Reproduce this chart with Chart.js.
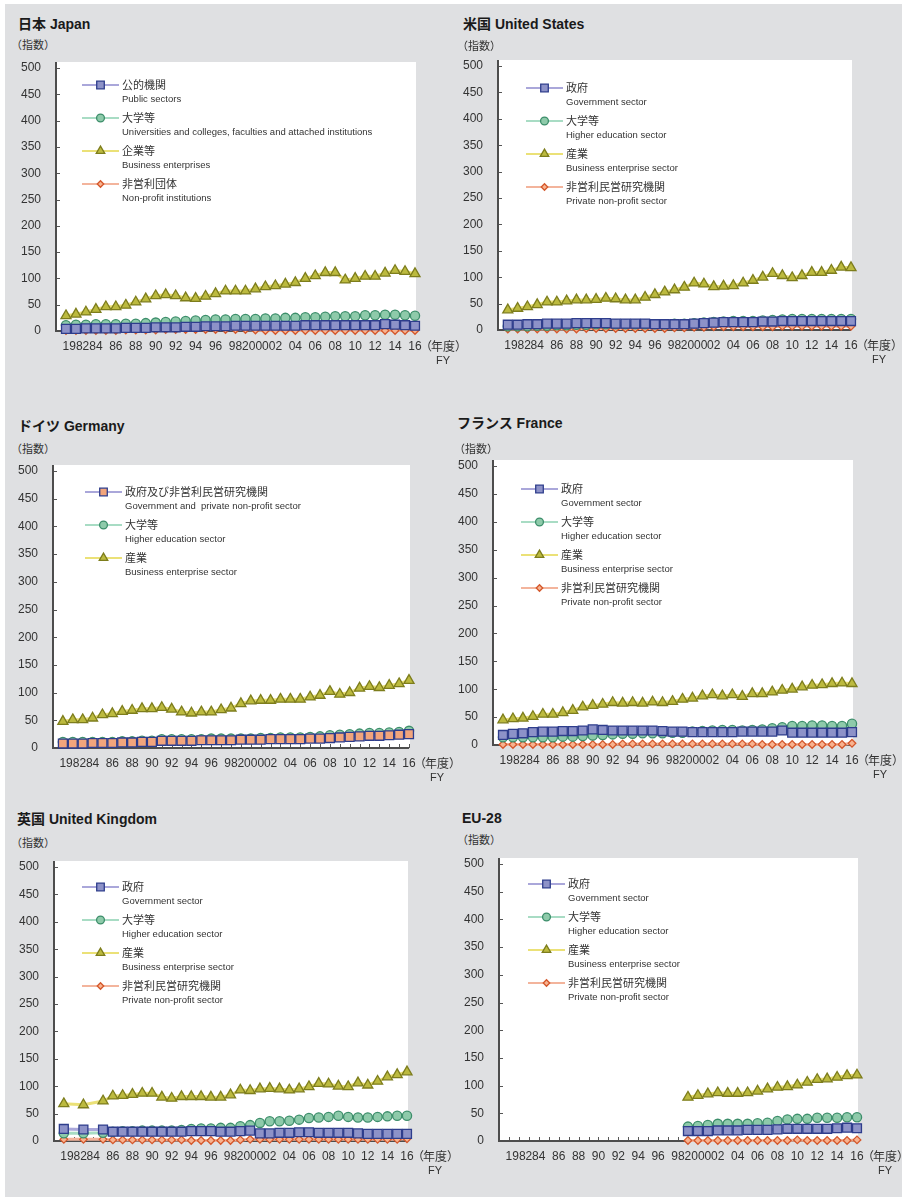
<!DOCTYPE html>
<html>
<head>
<meta charset="utf-8">
<script src="https://cdn.jsdelivr.net/npm/chart.js@4.4.1/dist/chart.umd.min.js"></script>
<style>
  body { margin: 0; width: 902px; height: 1197px; background: #fff; position: relative; overflow: hidden;
         font-family: "Liberation Sans", "Noto Sans CJK JP", sans-serif; color: #333; }
  #bg { position: absolute; left: 5px; top: 4px; width: 897px; height: 1193px; background: #dfe0e2; }
  .title { position: absolute; font-weight: bold; font-size: 14px; line-height: 18px; color: #1a1a1a; white-space: nowrap; }
  .unit { position: absolute; font-size: 11px; line-height: 14px; color: #333; white-space: nowrap; font-family: "Noto Sans CJK JP", sans-serif; }
  canvas { position: absolute; }
</style>
</head>
<body>
<div id="bg"></div>
<script>
// ---------------------------------------------------------
// DATA
// ---------------------------------------------------------
const years = [1981, 1982, 1983, 1984, 1985, 1986, 1987, 1988, 1989, 1990,
               1991, 1992, 1993, 1994, 1995, 1996, 1997, 1998, 1999, 2000,
               2001, 2002, 2003, 2004, 2005, 2006, 2007, 2008, 2009, 2010,
               2011, 2012, 2013, 2014, 2015, 2016];
const xTickYears = [1982, 1984, 1986, 1988, 1990, 1992, 1994, 1996, 1998,
                    2000, 2002, 2004, 2006, 2008, 2010, 2012, 2014, 2016];
const xTickText = ["1982", "84", "86", "88", "90", "92", "94", "96", "98",
                   "2000", "02", "04", "06", "08", "10", "12", "14", "16"];
const yTickValues = [0, 50, 100, 150, 200, 250, 300, 350, 400, 450, 500];

// Japan
const jpPublic    = [4, 4, 5, 5, 5, 5, 6, 6, 6, 7, 7, 7, 8, 8, 9, 9, 9, 10, 10, 10, 10, 10, 10, 10, 11, 11, 11, 11, 11, 11, 11, 11, 13, 12, 11, 10];
const jpUniv      = [11, 12, 12, 13, 13, 13, 14, 14, 15, 16, 17, 18, 19, 20, 21, 22, 22, 23, 23, 23, 24, 24, 25, 25, 26, 26, 27, 28, 28, 28, 30, 30, 31, 31, 30, 29];
const jpBusiness  = [29, 32, 36, 41, 46, 46, 49, 55, 61, 67, 69, 67, 63, 62, 66, 71, 76, 76, 76, 80, 84, 86, 89, 92, 100, 105, 111, 111, 97, 100, 104, 104, 110, 115, 113, 109];
const jpNonprofit = [1, 1, 1, 1, 1, 1, 2, 2, 2, 2, 3, 3, 3, 3, 3, 3, 3, 3, 3, 2, 1, 1, 1, 1, 1, 1, 1, 1, 1, 1, 1, 1, 1, 1, 1, 1];

// United States
const usGov       = [10, 10, 11, 11, 12, 12, 12, 13, 13, 13, 13, 12, 12, 12, 12, 11, 11, 11, 11, 12, 13, 14, 15, 15, 15, 15, 16, 16, 17, 17, 17, 17, 17, 17, 17, 17];
const usHigher    = [7, 7, 7, 8, 8, 9, 9, 10, 10, 11, 11, 11, 11, 11, 11, 11, 11, 12, 12, 13, 14, 15, 16, 17, 17, 17, 18, 19, 20, 21, 21, 21, 21, 21, 21, 21];
const usBusiness  = [38, 41, 44, 48, 53, 53, 55, 57, 57, 58, 60, 59, 57, 57, 62, 67, 72, 76, 81, 89, 87, 82, 83, 84, 89, 94, 100, 107, 103, 99, 103, 109, 109, 113, 119, 118];
const usNonprofit = [2, 2, 2, 2, 2, 2, 2, 2, 3, 3, 3, 3, 3, 3, 3, 3, 3, 4, 4, 5, 5, 6, 6, 6, 6, 6, 6, 6, 7, 7, 7, 7, 7, 7, 7, 7];

// Germany
const deGovNp     = [8, 8, 8, 9, 9, 9, 10, 10, 11, 11, 13, 13, 13, 13, 14, 14, 14, 14, 15, 15, 15, 16, 16, 16, 16, 17, 17, 18, 19, 20, 21, 22, 22, 23, 24, 25];
const deHigher    = [11, 11, 11, 11, 11, 11, 12, 12, 13, 13, 16, 16, 16, 16, 16, 17, 17, 17, 17, 17, 18, 18, 19, 19, 19, 20, 21, 23, 24, 25, 26, 27, 27, 28, 29, 31];
const deBusiness  = [48, 51, 51, 54, 60, 62, 66, 68, 71, 71, 73, 70, 65, 63, 65, 65, 69, 72, 80, 85, 86, 86, 88, 88, 88, 92, 95, 102, 97, 100, 108, 111, 109, 113, 116, 122];

// France
const frGov       = [18, 20, 21, 23, 24, 24, 25, 25, 26, 28, 27, 26, 26, 26, 26, 26, 25, 24, 24, 23, 23, 23, 23, 23, 24, 24, 24, 24, 26, 22, 22, 22, 22, 22, 22, 23];
const frHigher    = [14, 14, 14, 14, 14, 14, 15, 15, 16, 17, 18, 19, 20, 20, 21, 21, 21, 22, 22, 24, 25, 26, 27, 27, 26, 27, 28, 30, 32, 34, 34, 35, 35, 34, 34, 38];
const frBusiness  = [45, 47, 48, 51, 55, 55, 58, 62, 68, 71, 73, 76, 75, 76, 75, 77, 76, 78, 82, 84, 88, 90, 88, 90, 87, 92, 92, 95, 98, 100, 104, 107, 108, 110, 111, 110];
const frNonprofit = [1, 1, 1, 1, 1, 1, 1, 1, 1, 1, 1, 1, 2, 2, 2, 2, 2, 2, 2, 2, 2, 2, 2, 2, 2, 2, 1, 1, 1, 1, 1, 1, 1, 1, 1, 3];

// United Kingdom (no 1982, 1984)
const ukGov       = [22, null, 21, null, 21, 17, 17, 17, 17, 17, 17, 17, 17, 18, 18, 18, 17, 17, 18, 19, 14, 14, 15, 15, 16, 16, 15, 15, 15, 15, 14, 13, 13, 13, 13, 13];
const ukHigher    = [14, null, 14, null, 15, 17, 18, 18, 19, 19, 19, 19, 20, 22, 23, 23, 24, 24, 27, 29, 33, 36, 36, 37, 39, 42, 43, 44, 46, 44, 43, 43, 44, 45, 46, 46];
const ukBusiness  = [68, null, 66, null, 73, 82, 83, 85, 87, 87, 80, 78, 81, 81, 81, 80, 80, 84, 93, 92, 95, 96, 95, 93, 95, 99, 105, 104, 100, 99, 106, 102, 109, 117, 121, 126];
const ukNonprofit = [3, null, 3, null, 3, 2, 2, 2, 2, 2, 2, 2, 2, 1, 1, 1, 1, 1, 2, 3, 3, 3, 3, 3, 3, 3, 3, 3, 3, 3, 3, 3, 3, 3, 3, 4];

// EU-28 (from 1999)
const euGov       = [null, null, null, null, null, null, null, null, null, null, null, null, null, null, null, null, null, null,
                     18, 18, 18, 19, 19, 19, 20, 20, 20, 21, 22, 22, 22, 22, 22, 23, 24, 23];
const euHigher    = [null, null, null, null, null, null, null, null, null, null, null, null, null, null, null, null, null, null,
                     26, 27, 29, 31, 31, 31, 31, 32, 33, 36, 39, 40, 40, 42, 42, 42, 43, 43];
const euBusiness  = [null, null, null, null, null, null, null, null, null, null, null, null, null, null, null, null, null, null,
                     79, 82, 85, 87, 86, 86, 87, 90, 94, 97, 98, 101, 106, 111, 112, 115, 118, 119];
const euNonprofit = [null, null, null, null, null, null, null, null, null, null, null, null, null, null, null, null, null, null,
                     1, 1, 1, 1, 1, 1, 1, 1, 1, 1, 1, 2, 1, 1, 1, 1, 1, 2];

// legend texts
const jpNamesJa = ["公的機関", "大学等", "企業等", "非営利団体"];
const jpNamesEn = ["Public sectors", "Universities and colleges, faculties and attached institutions",
                   "Business enterprises", "Non-profit institutions"];
const sectorNamesJa = ["政府", "大学等", "産業", "非営利民営研究機関"];
const sectorNamesEn = ["Government sector", "Higher education sector", "Business enterprise sector", "Private non-profit sector"];
const deNamesJa = ["政府及び非営利民営研究機関", "大学等", "産業"];
const deNamesEn = ["Government and  private non-profit sector", "Higher education sector", "Business enterprise sector"];

// ---------------------------------------------------------
// STYLES
// ---------------------------------------------------------
const STYLE = {
  gov:       { line: "#aaa7da", fill: "#8d92c8", edge: "#2e3d8c", shape: "rect",     r: 6.3 },
  govNp:     { line: "#aaa7da", fill: "#f2a57c", edge: "#2e3d8c", shape: "rect",     r: 6.3 },
  higher:    { line: "#a8dcc4", fill: "#8ecaaa", edge: "#3d8e6b", shape: "circle",   r: 4.6 },
  business:  { line: "#ebe177", fill: "#bcba3f", edge: "#7d7d1c", shape: "triangle", r: 5.8 },
  nonprofit: { line: "#f3b49c", fill: "#f8b390", edge: "#d4572b", shape: "rectRot",  r: 3.8 }
};

// ---------------------------------------------------------
// PANELS
// ---------------------------------------------------------
const panels = [
  { title: "日本 Japan", tx: 18, ty: 24, ux: 11, uy: 44, axisX: 56, y500: 68, y0: 331, right: 415, legX: 26, legY: 17,
    series: [[jpPublic, "gov"], [jpUniv, "higher"], [jpBusiness, "business"], [jpNonprofit, "nonprofit"]],
    namesJa: jpNamesJa, namesEn: jpNamesEn },
  { title: "米国 United States", tx: 463, ty: 24, ux: 457, uy: 45, axisX: 498, y500: 66, y0: 330, right: 851, legX: 28, legY: 22,
    series: [[usGov, "gov"], [usHigher, "higher"], [usBusiness, "business"], [usNonprofit, "nonprofit"]],
    namesJa: sectorNamesJa, namesEn: sectorNamesEn },
  { title: "ドイツ Germany", tx: 18, ty: 426, ux: 11, uy: 448, axisX: 53, y500: 471, y0: 748, right: 409, legX: 32, legY: 21,
    series: [[deGovNp, "govNp"], [deHigher, "higher"], [deBusiness, "business"]],
    namesJa: deNamesJa, namesEn: deNamesEn },
  { title: "フランス France", tx: 457, ty: 423, ux: 454, uy: 448, axisX: 493, y500: 466, y0: 745, right: 852, legX: 28, legY: 23,
    series: [[frGov, "gov"], [frHigher, "higher"], [frBusiness, "business"], [frNonprofit, "nonprofit"]],
    namesJa: sectorNamesJa, namesEn: sectorNamesEn },
  { title: "英国 United Kingdom", tx: 17, ty: 819, ux: 11, uy: 842, axisX: 54, y500: 867, y0: 1141, right: 407, legX: 28, legY: 20,
    series: [[ukGov, "gov"], [ukHigher, "higher"], [ukBusiness, "business"], [ukNonprofit, "nonprofit"]],
    namesJa: sectorNamesJa, namesEn: sectorNamesEn },
  { title: "EU-28", tx: 462, ty: 818, ux: 457, uy: 839, axisX: 499, y500: 864, y0: 1141, right: 857, legX: 29, legY: 20,
    series: [[euGov, "gov"], [euHigher, "higher"], [euBusiness, "business"], [euNonprofit, "nonprofit"]],
    namesJa: sectorNamesJa, namesEn: sectorNamesEn }
];

const PAD_L = 50, PAD_T = 10, PAD_R = 60, PAD_B = 40;

// ---------------------------------------------------------
// PLUGIN: white plot, axes with inside ticks, legend, FY label
// ---------------------------------------------------------
const decor = {
  id: "decor",
  beforeDraw(chart) {
    const { ctx, chartArea: a } = chart;
    ctx.save();
    ctx.fillStyle = "#ffffff";
    ctx.fillRect(a.left, a.top - 6, a.right - a.left + 1, a.bottom - a.top + 6);
    ctx.restore();
  },
  beforeDatasetsDraw(chart) {
    const { ctx, chartArea: a, scales: { x, y } } = chart;
    ctx.save();
    ctx.strokeStyle = "#555";
    ctx.lineWidth = 1;
    ctx.beginPath();
    years.forEach(yr => {
      const px = Math.round(x.getPixelForValue(yr)) + 0.5;
      ctx.moveTo(px, a.bottom);
      ctx.lineTo(px, a.bottom - 4);
    });
    yTickValues.forEach(v => {
      const py = Math.round(y.getPixelForValue(v)) + 0.5;
      ctx.moveTo(a.left, py);
      ctx.lineTo(a.left + 4, py);
    });
    ctx.stroke();
    ctx.strokeStyle = "#4d4d4d";
    ctx.lineWidth = 2;
    ctx.beginPath();
    ctx.moveTo(a.left, a.top - 6);
    ctx.lineTo(a.left, a.bottom);
    ctx.lineTo(a.right, a.bottom);
    ctx.stroke();
    ctx.restore();
  },
  afterDraw(chart, args, opts) {
    const { ctx, chartArea: a } = chart;
    ctx.save();
    // legend
    chart.data.datasets.forEach((d, i) => {
      const x0 = a.left + opts.legX;
      const y0 = a.top + opts.legY + i * 33;
      ctx.strokeStyle = d.borderColor;
      ctx.lineWidth = 2;
      ctx.beginPath();
      ctx.moveTo(x0, y0);
      ctx.lineTo(x0 + 37, y0);
      ctx.stroke();
      ctx.fillStyle = d.pointBackgroundColor;
      ctx.strokeStyle = d.pointBorderColor;
      ctx.lineWidth = 1.3;
      Chart.helpers.drawPoint(ctx, { pointStyle: d.pointStyle, radius: d.pointRadius * 0.85, rotation: 0, borderWidth: 1.3 }, x0 + 18.5, y0);
      ctx.fillStyle = "#333";
      ctx.textAlign = "left";
      ctx.textBaseline = "middle";
      ctx.font = '11px "Noto Sans CJK JP"';
      ctx.fillText(opts.namesJa[i], x0 + 40, y0);
      ctx.font = '9.5px "Liberation Sans"';
      ctx.fillText(opts.namesEn[i], x0 + 40, y0 + 14);
    });
    // (年度) FY
    const ly = a.bottom + 15;
    ctx.fillStyle = "#333";
    ctx.textBaseline = "middle";
    ctx.font = '12px "Noto Sans CJK JP"';
    ctx.textAlign = "right";
    ctx.fillText("（", a.right + 17, ly);
    ctx.textAlign = "left";
    ctx.fillText("年度", a.right + 16, ly);
    ctx.fillText("）", a.right + 40, ly);
    ctx.font = '11px "Liberation Sans"';
    ctx.fillText("FY", a.right + 21, a.bottom + 30);
    ctx.restore();
  }
};

// ---------------------------------------------------------
// BUILD
// ---------------------------------------------------------
function makeDataset(values, style) {
  const s = STYLE[style];
  return {
    data: years.map((yr, i) => ({ x: yr, y: values[i] })),
    borderColor: s.line,
    borderWidth: 3,
    pointStyle: s.shape,
    pointRadius: s.r,
    pointBackgroundColor: s.fill,
    pointBorderColor: s.edge,
    pointBorderWidth: 1.3,
    spanGaps: true,
    clip: false,
    tension: 0
  };
}

panels.forEach(p => {
  const t = document.createElement("div");
  t.className = "title";
  t.style.left = p.tx + "px";
  t.style.top = (p.ty - 9) + "px";
  t.textContent = p.title;
  document.body.appendChild(t);

  const u = document.createElement("div");
  u.className = "unit";
  u.style.left = p.ux + "px";
  u.style.top = (p.uy - 7) + "px";
  u.textContent = "（指数）";
  document.body.appendChild(u);

  const w = p.right - p.axisX + PAD_L + PAD_R;
  const h = p.y0 - p.y500 + PAD_T + PAD_B;
  const cv = document.createElement("canvas");
  cv.width = w;
  cv.height = h;
  cv.style.left = (p.axisX - PAD_L) + "px";
  cv.style.top = (p.y500 - PAD_T) + "px";
  cv.style.width = w + "px";
  cv.style.height = h + "px";
  document.body.appendChild(cv);

  new Chart(cv, {
    type: "line",
    data: { datasets: p.series.map(([vals, st]) => makeDataset(vals, st)) },
    options: {
      responsive: false,
      animation: false,
      devicePixelRatio: 1,
      layout: { autoPadding: false, padding: { left: 0, top: PAD_T, right: PAD_R, bottom: 0 } },
      plugins: {
        legend: { display: false },
        tooltip: { enabled: false },
        decor: { legX: p.legX, legY: p.legY, namesJa: p.namesJa, namesEn: p.namesEn }
      },
      scales: {
        x: {
          type: "linear",
          min: 1980,
          max: 2016,
          grid: { display: false, drawTicks: false },
          border: { display: false },
          afterBuildTicks: s => { s.ticks = xTickYears.map(v => ({ value: v })); },
          afterFit: s => { s.height = PAD_B; s.paddingLeft = 0; s.paddingRight = 0; },
          ticks: {
            autoSkip: false,
            maxRotation: 0,
            minRotation: 0,
            padding: 8,
            color: "#333",
            font: { family: "Liberation Sans", size: 12 },
            callback: v => xTickText[xTickYears.indexOf(v)] ?? ""
          }
        },
        y: {
          min: 0,
          max: 500,
          grid: { display: false, drawTicks: false },
          border: { display: false },
          afterBuildTicks: s => { s.ticks = yTickValues.map(v => ({ value: v })); },
          afterFit: s => { s.width = PAD_L; s.paddingTop = 0; s.paddingBottom = 0; },
          ticks: {
            padding: 15,
            color: "#333",
            font: { family: "Liberation Sans", size: 12 }
          }
        }
      }
    },
    plugins: [decor]
  });
});
</script>
</body>
</html>
